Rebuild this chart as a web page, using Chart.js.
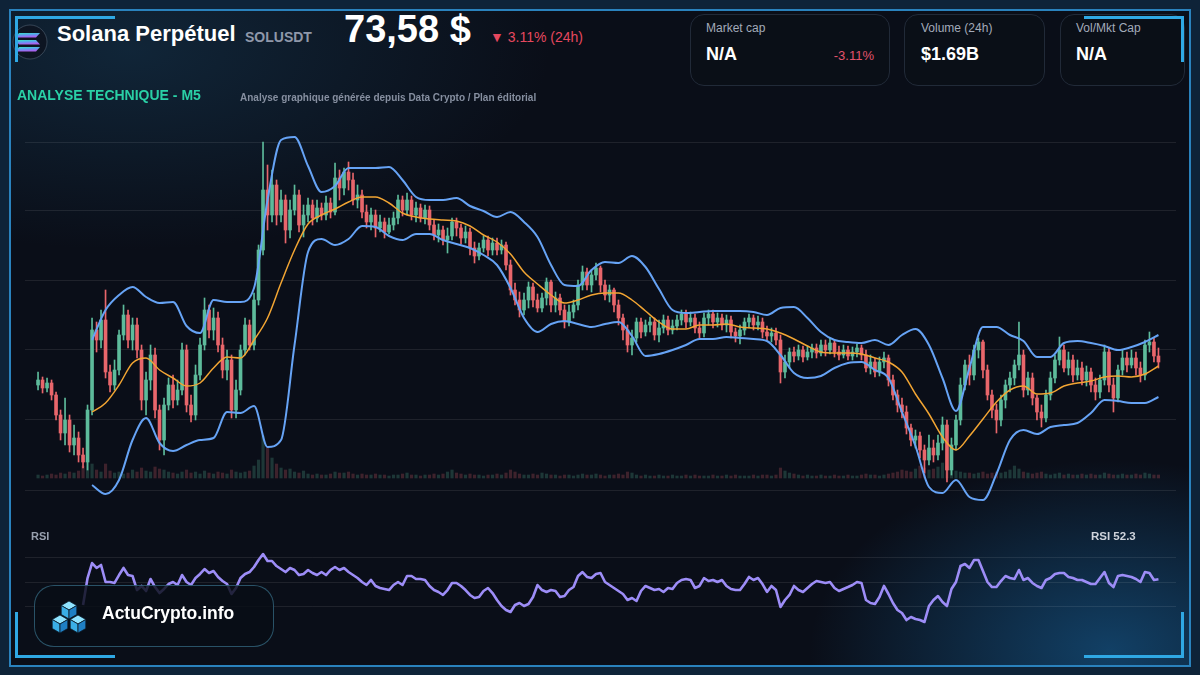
<!DOCTYPE html>
<html lang="fr">

<head>
	<meta charset="utf-8">
	<title>Solana Perpétuel - SOLUSDT M5</title>
	<style>
		body {
			margin: 0;
			width: 1200px;
			height: 675px;
			overflow: hidden;
			background: #0d2134;
			font-family: "Liberation Sans", Arial, sans-serif;
		}

		#page {
			position: absolute;
			left: 0;
			top: 0;
			width: 1200px;
			height: 675px;
			overflow: hidden;
			background:
				radial-gradient(ellipse 300px 190px at 1110px 650px, rgba(24, 105, 165, 0.55), rgba(24, 105, 165, 0) 100%),
				radial-gradient(ellipse 420px 200px at 130px 50px, rgba(26, 72, 104, 0.40), rgba(26, 72, 104, 0) 100%),
				#0a0e18;
		}

		.frame {
			position: absolute;
			left: 9px;
			top: 9px;
			width: 1182px;
			height: 658px;
			box-sizing: border-box;
			border: 2px solid #2a82bd;
			box-shadow: 0 0 0 12px #0e2338;
		}

		.accent {
			position: absolute;
			background: #2fa8e4;
		}

		.abs {
			position: absolute;
			white-space: nowrap;
			line-height: 1;
		}

		.card {
			position: absolute;
			top: 14px;
			height: 72px;
			box-sizing: border-box;
			border: 1px solid #212a38;
			border-radius: 14px;
			background: rgba(11, 15, 24, 0.92);
		}

		.label {
			font-size: 12px;
			color: #a3abba;
			top: 22px;
		}

		.value {
			font-size: 18px;
			font-weight: 700;
			color: #ffffff;
			top: 45px;
		}

		canvas {
			position: absolute;
		}

		.brand {
			position: absolute;
			left: 34px;
			top: 585px;
			width: 240px;
			height: 62px;
			box-sizing: border-box;
			border: 1px solid rgba(70, 140, 170, 0.55);
			border-radius: 20px;
			background: rgba(9, 13, 22, 0.82);
		}
	</style>
</head>

<body>
	<div id="page">
		<div class="frame"></div>

		<canvas id="priceChart" width="1151" height="415" style="left:25px; top:100px;"></canvas>
		<canvas id="rsiChart" width="1151" height="90" style="left:25px; top:540px;"></canvas>

		<!-- logo solana -->
		<svg style="position:absolute; left:12px; top:23px;" width="38" height="38" viewBox="0 0 38 38">
			<defs>
				<linearGradient id="sol" x1="0" y1="0" x2="0.3" y2="1">
					<stop offset="0" stop-color="#36e8c0" />
					<stop offset="0.5" stop-color="#5c9ff0" />
					<stop offset="1" stop-color="#b05cf0" />
				</linearGradient>
			</defs>
			<circle cx="18" cy="19" r="17" fill="#0d1522" stroke="rgba(130,150,170,0.35)" stroke-width="1" />
			<path d="M7,10 L28,10 L24,14.5 L3,14.5 Z" fill="url(#sol)" />
			<path d="M3,17 L24,17 L28,21.5 L7,21.5 Z" fill="url(#sol)" />
			<path d="M7,24 L28,24 L24,28.5 L3,28.5 Z" fill="url(#sol)" />
		</svg>

		<div class="abs" style="left:57px; top:23px; font-size:22px; font-weight:700; color:#ffffff;">Solana Perpétuel</div>
		<div class="abs" style="left:245px; top:30px; font-size:14px; font-weight:700; color:#8f98aa;">SOLUSDT</div>
		<div class="abs" style="left:344px; top:10px; font-size:38px; font-weight:700; color:#ffffff;">73,58 $</div>
		<div class="abs" style="left:490px; top:30px; font-size:14px; color:#e5485f;">▼ 3.11% (24h)</div>

		<div class="abs" style="left:17px; top:88px; font-size:14px; font-weight:700; color:#2ad0a6;">ANALYSE TECHNIQUE - M5</div>
		<div class="abs" style="left:240px; top:92.5px; font-size:10px; font-weight:700; color:#868fa0;">Analyse graphique générée depuis Data Crypto / Plan éditorial</div>

		<div class="card" style="left:690px; width:200px;"></div>
		<div class="abs label" style="left:706px;">Market cap</div>
		<div class="abs value" style="left:706px;">N/A</div>
		<div class="abs" style="right:326px; top:49px; font-size:13px; color:#e3536c;">-3.11%</div>

		<div class="card" style="left:904px; width:141px;"></div>
		<div class="abs label" style="left:921px;">Volume (24h)</div>
		<div class="abs value" style="left:921px;">$1.69B</div>

		<div class="card" style="left:1060px; width:125px;"></div>
		<div class="abs label" style="left:1076px;">Vol/Mkt Cap</div>
		<div class="abs value" style="left:1076px;">N/A</div>

		<div class="abs" style="left:31px; top:531px; font-size:11px; font-weight:700; color:#98a0ae;">RSI</div>
		<div class="abs" style="left:1091px; top:530.5px; font-size:11.5px; font-weight:700; color:#cfd4dc;">RSI 52.3</div>

		<div class="brand"></div>
		<svg style="position:absolute; left:50px; top:598px;" width="40" height="40" viewBox="0 0 40 40">
			<g stroke="#0b1a2a" stroke-width="0.8">
				<path d="M19,3 L26.8,7.5 L19,12 L11.2,7.5 Z" fill="#8fe3ff" />
				<path d="M11.2,7.5 L19,12 L19,21 L11.2,16.5 Z" fill="#3aaee6" />
				<path d="M19,12 L26.8,7.5 L26.8,16.5 L19,21 Z" fill="#1f7fc4" />
				<path d="M10,17 L17.8,21.5 L10,26 L2.2,21.5 Z" fill="#8fe3ff" />
				<path d="M2.2,21.5 L10,26 L10,35 L2.2,30.5 Z" fill="#3aaee6" />
				<path d="M10,26 L17.8,21.5 L17.8,30.5 L10,35 Z" fill="#1f7fc4" />
				<path d="M28,17 L35.8,21.5 L28,26 L20.2,21.5 Z" fill="#8fe3ff" />
				<path d="M20.2,21.5 L28,26 L28,35 L20.2,30.5 Z" fill="#3aaee6" />
				<path d="M28,26 L35.8,21.5 L35.8,30.5 L28,35 Z" fill="#1f7fc4" />
			</g>
		</svg>
		<div class="abs" style="left:102px; top:605px; font-size:17.5px; font-weight:700; color:#ffffff;">ActuCrypto.info</div>

		<div class="accent" style="left:15px; top:16px; width:100px; height:3px;"></div>
		<div class="accent" style="left:15px; top:16px; width:3px; height:46px;"></div>
		<div class="accent" style="left:1084px; top:16px; width:100px; height:3px;"></div>
		<div class="accent" style="left:1181px; top:16px; width:3px; height:46px;"></div>
		<div class="accent" style="left:15px; top:612px; width:3px; height:46px;"></div>
		<div class="accent" style="left:15px; top:655px; width:100px; height:3px;"></div>
		<div class="accent" style="left:1181px; top:612px; width:3px; height:46px;"></div>
		<div class="accent" style="left:1084px; top:655px; width:100px; height:3px;"></div>
	</div>

	<script src="https://cdn.jsdelivr.net/npm/chart.js@4.4.1/dist/chart.umd.min.js"></script>
	<script>
		// bougies M5 SOLUSDT (prix en $)
		const opens = [73.35, 73.40, 73.32, 73.37, 73.25, 73.05, 72.87, 73.00, 72.75, 72.82,
			72.65, 72.58, 73.10, 73.90, 73.80, 74.00, 73.48, 73.35, 73.50, 73.85,
			74.05, 73.80, 73.95, 73.70, 73.20, 73.40, 73.65, 73.10, 72.80, 73.15,
			73.35, 73.20, 73.30, 73.70, 73.15, 73.05, 73.45, 73.75, 74.10, 73.90,
			74.02, 73.75, 73.50, 73.60, 73.10, 73.30, 73.70, 73.95, 73.75, 74.20,
			74.70, 75.30, 75.05, 75.35, 75.05, 75.20, 74.90, 75.10, 75.25, 74.95,
			75.05, 75.15, 75.02, 75.12, 75.05, 75.17, 75.08, 75.42, 75.32, 75.48,
			75.40, 75.20, 75.25, 75.08, 74.98, 75.05, 74.92, 74.98, 74.88, 74.95,
			75.02, 75.20, 75.10, 75.20, 75.05, 75.12, 75.02, 75.10, 74.95, 74.85,
			74.90, 74.80, 74.84, 74.98, 74.92, 74.82, 74.88, 74.72, 74.64, 74.72,
			74.80, 74.70, 74.77, 74.70, 74.75, 74.55, 74.30, 74.20, 74.10, 74.20,
			74.33, 74.20, 74.12, 74.22, 74.38, 74.15, 74.22, 74.10, 73.98, 74.08,
			74.15, 74.35, 74.48, 74.35, 74.45, 74.52, 74.35, 74.25, 74.30, 74.15,
			74.02, 73.90, 73.75, 73.82, 73.98, 73.88, 73.95, 73.98, 73.85, 73.92,
			74.00, 73.90, 73.94, 74.00, 74.06, 73.98, 74.02, 73.92, 73.87, 74.02,
			74.06, 73.98, 74.02, 73.95, 74.00, 73.88, 73.84, 73.90, 73.98, 74.02,
			73.95, 73.98, 73.88, 73.84, 73.87, 73.80, 73.48, 73.58, 73.68, 73.64,
			73.70, 73.63, 73.68, 73.72, 73.67, 73.75, 73.70, 73.77, 73.68, 73.65,
			73.70, 73.64, 73.68, 73.72, 73.65, 73.52, 73.58, 73.48, 73.58, 73.62,
			73.40, 73.25, 73.15, 73.08, 72.92, 72.80, 72.84, 72.70, 72.60, 72.72,
			72.65, 72.77, 72.95, 72.50, 72.75, 73.00, 73.35, 73.55, 73.45, 73.70,
			73.78, 73.50, 73.25, 73.10, 73.00, 73.20, 73.35, 73.42, 73.55, 73.65,
			73.30, 73.42, 73.22, 73.08, 73.02, 73.25, 73.42, 73.60, 73.70, 73.52,
			73.60, 73.45, 73.52, 73.40, 73.48, 73.35, 73.28, 73.40, 73.68, 73.35,
			73.22, 73.50, 73.62, 73.55, 73.62, 73.52, 73.45, 73.75, 73.78, 73.64];

		const highs = [73.48, 73.43, 73.42, 73.40, 73.28, 73.10, 73.22, 73.05, 72.95, 72.88,
			72.72, 73.15, 74.02, 73.98, 74.10, 74.30, 73.55, 73.60, 73.90, 74.15,
			74.10, 74.02, 74.02, 73.75, 73.48, 73.75, 73.72, 73.15, 73.22, 73.42,
			73.45, 73.40, 73.77, 73.75, 73.25, 73.55, 73.82, 74.22, 74.15, 74.12,
			74.08, 73.82, 73.70, 73.65, 73.40, 73.75, 74.02, 74.00, 74.27, 74.75,
			75.78, 75.55, 75.50, 75.40, 75.30, 75.25, 75.20, 75.35, 75.30, 75.15,
			75.22, 75.20, 75.20, 75.17, 75.24, 75.22, 75.57, 75.50, 75.52, 75.58,
			75.47, 75.35, 75.30, 75.15, 75.12, 75.10, 75.05, 75.02, 75.02, 75.08,
			75.25, 75.24, 75.27, 75.24, 75.18, 75.16, 75.15, 75.14, 75.00, 74.96,
			74.94, 74.92, 75.02, 75.02, 74.96, 74.94, 74.92, 74.78, 74.77, 74.84,
			74.84, 74.82, 74.82, 74.80, 74.78, 74.60, 74.37, 74.28, 74.27, 74.38,
			74.37, 74.26, 74.27, 74.42, 74.40, 74.28, 74.26, 74.15, 74.15, 74.20,
			74.40, 74.54, 74.52, 74.50, 74.57, 74.54, 74.40, 74.35, 74.32, 74.20,
			74.06, 73.95, 73.90, 74.02, 74.02, 74.00, 74.03, 74.02, 74.00, 74.05,
			74.04, 74.00, 74.05, 74.10, 74.10, 74.08, 74.06, 73.98, 74.07, 74.10,
			74.10, 74.07, 74.06, 74.05, 74.04, 73.92, 73.95, 74.02, 74.06, 74.05,
			74.04, 74.02, 73.94, 73.92, 73.92, 73.85, 73.65, 73.72, 73.73, 73.75,
			73.74, 73.74, 73.76, 73.76, 73.80, 73.80, 73.82, 73.80, 73.74, 73.75,
			73.74, 73.73, 73.76, 73.75, 73.70, 73.65, 73.62, 73.63, 73.68, 73.65,
			73.45, 73.30, 73.22, 73.14, 72.96, 72.90, 72.88, 72.75, 72.85, 72.80,
			72.85, 73.03, 73.00, 72.82, 73.05, 73.42, 73.60, 73.65, 73.75, 73.82,
			73.80, 73.55, 73.30, 73.16, 73.25, 73.40, 73.48, 73.60, 73.98, 73.70,
			73.48, 73.47, 73.25, 73.15, 73.30, 73.48, 73.65, 73.83, 73.75, 73.68,
			73.65, 73.60, 73.58, 73.54, 73.52, 73.42, 73.45, 73.75, 73.72, 73.42,
			73.55, 73.70, 73.68, 73.70, 73.68, 73.58, 73.80, 73.88, 73.82, 73.72];

		const lows = [73.30, 73.27, 73.28, 73.20, 73.00, 72.80, 72.75, 72.68, 72.65, 72.58,
			72.52, 72.50, 73.05, 73.68, 73.72, 73.42, 73.28, 73.30, 73.45, 73.80,
			73.72, 73.70, 73.62, 73.10, 73.05, 73.30, 73.02, 72.70, 72.65, 73.10,
			73.12, 73.15, 73.25, 73.08, 72.98, 73.00, 73.40, 73.70, 73.82, 73.80,
			73.68, 73.42, 73.40, 73.02, 73.02, 73.25, 73.65, 73.70, 73.70, 74.15,
			74.65, 74.90, 74.98, 74.95, 74.98, 74.77, 74.82, 75.05, 74.88, 74.83,
			74.98, 74.95, 74.98, 75.00, 75.00, 75.02, 75.05, 75.20, 75.25, 75.30,
			75.15, 75.12, 75.02, 74.92, 74.90, 74.83, 74.88, 74.82, 74.86, 74.90,
			74.96, 75.04, 75.05, 75.00, 74.98, 74.98, 74.96, 74.90, 74.80, 74.78,
			74.75, 74.67, 74.80, 74.84, 74.76, 74.77, 74.65, 74.57, 74.60, 74.68,
			74.64, 74.65, 74.65, 74.66, 74.50, 74.25, 74.15, 74.03, 74.05, 74.12,
			74.13, 74.08, 74.08, 74.15, 74.08, 74.08, 74.05, 73.92, 73.94, 74.02,
			74.10, 74.30, 74.30, 74.28, 74.40, 74.28, 74.20, 74.18, 74.08, 73.95,
			73.80, 73.68, 73.65, 73.78, 73.82, 73.84, 73.88, 73.80, 73.78, 73.87,
			73.85, 73.86, 73.90, 73.95, 73.92, 73.94, 73.87, 73.82, 73.83, 73.95,
			73.92, 73.93, 73.90, 73.88, 73.82, 73.78, 73.76, 73.85, 73.92, 73.90,
			73.90, 73.82, 73.80, 73.78, 73.75, 73.37, 73.42, 73.52, 73.58, 73.60,
			73.58, 73.60, 73.62, 73.62, 73.64, 73.64, 73.66, 73.63, 73.60, 73.62,
			73.60, 73.60, 73.63, 73.60, 73.48, 73.46, 73.43, 73.44, 73.52, 73.34,
			73.20, 73.08, 73.02, 72.86, 72.74, 72.72, 72.62, 72.47, 72.55, 72.58,
			72.60, 72.70, 72.38, 72.45, 72.70, 72.95, 73.30, 73.35, 73.40, 73.62,
			73.42, 73.20, 73.02, 72.87, 72.94, 73.12, 73.28, 73.35, 73.50, 73.23,
			73.25, 73.15, 73.00, 72.93, 72.98, 73.20, 73.37, 73.55, 73.48, 73.45,
			73.38, 73.40, 73.35, 73.34, 73.28, 73.20, 73.22, 73.35, 73.28, 73.08,
			73.18, 73.45, 73.48, 73.52, 73.45, 73.38, 73.40, 73.68, 73.58, 73.52];

		const closes = [73.40, 73.32, 73.37, 73.25, 73.05, 72.87, 73.00, 72.75, 72.82, 72.65,
			72.58, 73.10, 73.90, 73.80, 74.00, 73.48, 73.35, 73.50, 73.85, 74.05,
			73.80, 73.95, 73.70, 73.20, 73.40, 73.65, 73.10, 72.80, 73.15, 73.35,
			73.20, 73.30, 73.70, 73.15, 73.05, 73.45, 73.75, 74.10, 73.90, 74.02,
			73.75, 73.50, 73.60, 73.10, 73.30, 73.70, 73.95, 73.75, 74.20, 74.70,
			75.30, 75.05, 75.35, 75.05, 75.20, 74.90, 75.10, 75.25, 74.95, 75.05,
			75.15, 75.02, 75.12, 75.05, 75.17, 75.08, 75.42, 75.32, 75.48, 75.40,
			75.20, 75.25, 75.08, 74.98, 75.05, 74.92, 74.98, 74.88, 74.95, 75.02,
			75.20, 75.10, 75.20, 75.05, 75.12, 75.02, 75.10, 74.95, 74.85, 74.90,
			74.80, 74.84, 74.98, 74.92, 74.82, 74.88, 74.72, 74.64, 74.72, 74.80,
			74.70, 74.77, 74.70, 74.75, 74.55, 74.30, 74.20, 74.10, 74.20, 74.33,
			74.20, 74.12, 74.22, 74.38, 74.15, 74.22, 74.10, 73.98, 74.08, 74.15,
			74.35, 74.48, 74.35, 74.45, 74.52, 74.35, 74.25, 74.30, 74.15, 74.02,
			73.90, 73.75, 73.82, 73.98, 73.88, 73.95, 73.98, 73.85, 73.92, 74.00,
			73.90, 73.94, 74.00, 74.06, 73.98, 74.02, 73.92, 73.87, 74.02, 74.06,
			73.98, 74.02, 73.95, 74.00, 73.88, 73.84, 73.90, 73.98, 74.02, 73.95,
			73.98, 73.88, 73.84, 73.87, 73.80, 73.48, 73.58, 73.68, 73.64, 73.70,
			73.63, 73.68, 73.72, 73.67, 73.75, 73.70, 73.77, 73.68, 73.65, 73.70,
			73.64, 73.68, 73.72, 73.65, 73.52, 73.58, 73.48, 73.58, 73.62, 73.40,
			73.25, 73.15, 73.08, 72.92, 72.80, 72.84, 72.70, 72.60, 72.72, 72.65,
			72.77, 72.95, 72.50, 72.75, 73.00, 73.35, 73.55, 73.45, 73.70, 73.78,
			73.50, 73.25, 73.10, 73.00, 73.20, 73.35, 73.42, 73.55, 73.65, 73.30,
			73.42, 73.22, 73.08, 73.02, 73.25, 73.42, 73.60, 73.70, 73.52, 73.60,
			73.45, 73.52, 73.40, 73.48, 73.35, 73.28, 73.40, 73.68, 73.35, 73.22,
			73.50, 73.62, 73.55, 73.62, 73.52, 73.45, 73.75, 73.78, 73.64, 73.58];

		// volume (milliers de SOL)
		const volumes = [3, 2, 3, 4, 3, 5, 4, 6, 5, 7,
			12, 18, 14, 8, 6, 14, 7, 5, 6, 4,
			5, 8, 6, 10, 7, 6, 11, 9, 8, 6,
			5, 4, 6, 8, 5, 6, 4, 7, 5, 4,
			6, 5, 4, 8, 6, 5, 6, 7, 12, 18,
			42, 30, 20, 14, 10, 8, 9, 6, 5, 7,
			4, 3, 4, 3, 3, 4, 6, 5, 5, 6,
			4, 3, 4, 3, 3, 4, 3, 3, 2, 3,
			3, 4, 5, 3, 3, 2, 3, 3, 4, 3,
			4, 6, 8, 5, 4, 3, 4, 3, 3, 2,
			3, 3, 4, 3, 5, 8, 6, 4, 3, 3,
			4, 3, 5, 4, 3, 3, 2, 3, 3, 2,
			3, 4, 3, 3, 4, 3, 2, 3, 3, 4,
			3, 6, 5, 3, 2, 3, 2, 2, 3, 2,
			2, 3, 2, 2, 3, 2, 3, 2, 2, 2,
			3, 2, 2, 3, 2, 3, 2, 2, 2, 3,
			2, 3, 3, 2, 3, 10, 7, 5, 4, 3,
			2, 3, 2, 2, 3, 2, 2, 3, 2, 2,
			3, 2, 2, 3, 4, 3, 3, 2, 3, 4,
			5, 6, 8, 7, 6, 9, 12, 10, 8, 9,
			11, 15, 12, 9, 7, 6, 5, 5, 4, 5,
			6, 4, 5, 6, 5, 6, 8, 12, 9, 6,
			5, 4, 5, 6, 4, 3, 4, 5, 3, 4,
			3, 3, 4, 3, 4, 3, 3, 5, 4, 3,
			3, 4, 3, 3, 4, 3, 5, 4, 3, 3];

		// bandes de Bollinger et moyenne mobile, relevées toutes les 3 bougies
		const bandIdx = [12, 15, 18, 21, 24, 27, 30, 33, 36, 39, 42, 45, 48, 51, 54, 57, 60, 63, 66, 69,
			72, 75, 78, 81, 84, 87, 90, 93, 96, 99, 102, 105, 108, 111, 114, 117, 120, 123, 126, 129,
			132, 135, 138, 141, 144, 147, 150, 153, 156, 159, 162, 165, 168, 171, 174, 177, 180, 183, 186, 189,
			192, 195, 198, 201, 204, 207, 210, 213, 216, 219, 222, 225, 228, 231, 234, 237, 240, 243, 246, 249];

		const bbUpper = [73.80, 74.10, 74.25, 74.33, 74.23, 74.17, 74.18, 73.94, 73.87, 74.20,
			74.18, 74.18, 74.32, 75.20, 75.80, 75.83, 75.54, 75.28, 75.34, 75.52,
			75.52, 75.52, 75.53, 75.40, 75.23, 75.20, 75.20, 75.22, 75.14, 75.09,
			75.03, 75.08, 74.98, 74.83, 74.55, 74.35, 74.34, 74.50, 74.58, 74.57,
			74.64, 74.53, 74.31, 74.10, 74.07, 74.08, 74.09, 74.09, 74.09, 74.08,
			74.05, 74.12, 74.13, 74.02, 73.88, 73.80, 73.78, 73.77, 73.80, 73.75,
			73.85, 73.91, 73.75, 73.42, 73.09, 73.52, 73.93, 73.93, 73.85, 73.79,
			73.63, 73.63, 73.77, 73.79, 73.77, 73.74, 73.70, 73.73, 73.78, 73.85];

		const bbMiddle = [73.08, 73.17, 73.35, 73.57, 73.62, 73.50, 73.42, 73.34, 73.37, 73.52,
			73.63, 73.62, 73.80, 74.02, 74.37, 74.70, 74.96, 75.05, 75.11, 75.18,
			75.23, 75.23, 75.17, 75.07, 75.03, 75.01, 75.00, 74.99, 74.94, 74.85,
			74.78, 74.66, 74.48, 74.36, 74.25, 74.17, 74.20, 74.25, 74.27, 74.27,
			74.20, 74.09, 73.98, 73.91, 73.91, 73.95, 73.95, 73.96, 73.93, 73.92,
			73.91, 73.87, 73.81, 73.74, 73.68, 73.67, 73.67, 73.66, 73.62, 73.58,
			73.48, 73.26, 73.06, 72.83, 72.70, 72.84, 73.01, 73.18, 73.30, 73.34,
			73.26, 73.27, 73.34, 73.37, 73.39, 73.43, 73.44, 73.43, 73.46, 73.54];

		const bbLower = [72.35, 72.26, 72.40, 72.80, 73.02, 72.77, 72.69, 72.75, 72.80, 72.82,
			73.08, 73.07, 73.14, 72.73, 72.80, 73.75, 74.68, 74.81, 74.75, 74.81,
			74.94, 74.93, 74.84, 74.80, 74.86, 74.86, 74.80, 74.76, 74.72, 74.65,
			74.55, 74.32, 74.02, 73.88, 73.96, 73.99, 73.96, 73.93, 73.96, 73.98,
			73.84, 73.64, 73.66, 73.70, 73.75, 73.81, 73.81, 73.83, 73.82, 73.81,
			73.79, 73.65, 73.47, 73.42, 73.44, 73.52, 73.57, 73.58, 73.50, 73.42,
			73.08, 72.74, 72.33, 72.27, 72.40, 72.23, 72.20, 72.46, 72.80, 72.90,
			72.86, 72.93, 72.95, 72.97, 73.07, 73.20, 73.19, 73.17, 73.17, 73.23];

		// RSI 14
		const rsi = [null, null, null, null, null, null, null, null, null, null,
			30.8, 53.3, 65.8, 61.7, 64.2, 50.0, 50.0, 49.2, 55.8, 61.7,
			55.8, 55.0, 43.3, 46.7, 42.5, 52.5, 45.8, 40.8, 44.2, 48.3,
			50.0, 47.5, 55.8, 50.0, 47.5, 53.3, 56.7, 60.8, 57.5, 59.2,
			54.2, 50.8, 48.3, 40.0, 45.0, 53.3, 56.7, 58.3, 62.5, 68.3,
			73.3, 67.5, 67.5, 63.3, 60.8, 58.3, 61.7, 60.0, 55.8, 56.7,
			60.0, 57.5, 55.8, 58.3, 55.8, 60.0, 62.5, 60.0, 61.7, 58.3,
			55.8, 53.3, 50.0, 47.5, 51.7, 46.7, 45.0, 44.2, 43.3, 47.5,
			50.0, 47.5, 55.0, 55.0, 52.5, 52.5, 51.7, 46.7, 43.3, 41.7,
			39.2, 43.3, 49.2, 49.2, 46.7, 43.3, 39.2, 36.7, 37.5, 42.5,
			45.0, 40.8, 35.0, 30.0, 26.7, 25.0, 30.8, 32.5, 30.0, 31.7,
			37.5, 47.5, 43.3, 41.7, 43.3, 42.5, 37.5, 38.3, 43.3, 45.8,
			55.0, 58.3, 54.2, 53.3, 56.7, 57.5, 50.0, 47.5, 45.0, 42.5,
			40.0, 35.0, 36.7, 34.2, 42.5, 46.7, 45.0, 43.3, 44.2, 41.7,
			45.0, 44.2, 49.2, 51.7, 52.5, 51.7, 45.0, 46.7, 53.3, 50.8,
			51.7, 50.0, 51.7, 46.7, 44.2, 43.3, 43.3, 48.3, 54.2, 51.7,
			53.3, 48.3, 41.7, 46.7, 43.3, 29.2, 35.0, 39.2, 46.7, 43.3,
			41.7, 45.0, 48.3, 50.8, 50.0, 49.2, 50.0, 45.0, 42.5, 44.2,
			45.8, 47.5, 50.0, 49.2, 35.0, 32.5, 31.7, 37.5, 46.7, 40.0,
			32.5, 26.7, 24.2, 18.3, 20.8, 19.2, 18.3, 16.7, 30.0, 35.0,
			38.3, 33.3, 30.0, 44.2, 50.0, 63.3, 65.0, 61.7, 68.3, 68.3,
			59.2, 50.0, 45.8, 45.8, 50.8, 55.0, 53.3, 52.5, 60.0, 51.7,
			53.3, 49.2, 46.7, 45.0, 51.7, 53.3, 56.7, 57.5, 57.5, 54.2,
			53.3, 51.7, 51.7, 50.0, 48.3, 48.3, 53.3, 58.3, 49.2, 45.8,
			55.0, 55.8, 55.0, 54.2, 52.5, 50.0, 58.3, 57.5, 51.7, 52.3];

		// lignes de grille
		const priceGrid = [72.30, 73.00, 73.70, 74.39, 75.09, 75.78];
		const rsiGrid = [30, 50, 70];

		const UP = '#5dbb9b';
		const DOWN = '#e8666b';
		const GRID = 'rgba(255,255,255,0.085)';

		let candleIdx = closes.map((c, i) => i);
		let candleColors = candleIdx.map(i => closes[i] >= opens[i] ? UP : DOWN);
		let volumeColors = candleIdx.map(i => closes[i] >= opens[i] ? 'rgba(93,187,155,0.24)' : 'rgba(232,102,107,0.24)');

		function bandLine(label, values, color, width) {
			return {
				type: 'line',
				label: label,
				data: bandIdx.map((x, k) => ({ x: x, y: values[k] })),
				borderColor: color,
				borderWidth: width,
				pointRadius: 0,
				cubicInterpolationMode: 'monotone',
				order: 0
			};
		}

		let priceChart = new Chart(document.getElementById('priceChart').getContext('2d'), {
			type: 'bar',
			data: {
				datasets: [
					bandLine('BB haute', bbUpper, '#66a3f5', 2),
					bandLine('BB basse', bbLower, '#66a3f5', 2),
					bandLine('SMA 20', bbMiddle, '#f2a533', 1.5),
					{
						label: 'Corps',
						data: candleIdx.map(i => ({ x: i, y: [opens[i], closes[i]] })),
						backgroundColor: candleColors,
						barThickness: 3,
						minBarLength: 1,
						grouped: false,
						order: 1
					},
					{
						label: 'Mèches',
						data: candleIdx.map(i => ({ x: i, y: [lows[i], highs[i]] })),
						backgroundColor: candleColors,
						barThickness: 1,
						grouped: false,
						order: 2
					},
					{
						label: 'Volume',
						yAxisID: 'yVol',
						data: candleIdx.map(i => ({ x: i, y: volumes[i] })),
						backgroundColor: volumeColors,
						barThickness: 2.5,
						grouped: false,
						order: 3
					}
				]
			},
			options: {
				responsive: false,
				animation: false,
				events: [],
				layout: { padding: 0 },
				plugins: { legend: { display: false }, tooltip: { enabled: false } },
				scales: {
					x: { type: 'linear', min: -2.9, max: 252.9, offset: false, display: false },
					y: {
						min: 72.05,
						max: 76.20,
						ticks: { display: false },
						grid: { color: GRID, drawTicks: false },
						border: { display: false },
						afterBuildTicks: s => { s.ticks = priceGrid.map(v => ({ value: v })); }
					},
					yVol: { display: false, min: -37, max: 378 }
				}
			}
		});

		let rsiChart = new Chart(document.getElementById('rsiChart').getContext('2d'), {
			type: 'line',
			data: {
				datasets: [{
					label: 'RSI',
					data: candleIdx.map(i => ({ x: i, y: rsi[i] })),
					borderColor: '#9d8df7',
					borderWidth: 2.6,
					borderJoinStyle: 'round',
					pointRadius: 0,
					tension: 0
				}]
			},
			options: {
				responsive: false,
				animation: false,
				events: [],
				layout: { padding: 0 },
				plugins: { legend: { display: false }, tooltip: { enabled: false } },
				scales: {
					x: { type: 'linear', min: -2.9, max: 252.9, display: false },
					y: {
						min: 10,
						max: 85,
						ticks: { display: false },
						grid: { color: GRID, drawTicks: false },
						border: { display: false },
						afterBuildTicks: s => { s.ticks = rsiGrid.map(v => ({ value: v })); }
					}
				}
			}
		});
	</script>
</body>

</html>
